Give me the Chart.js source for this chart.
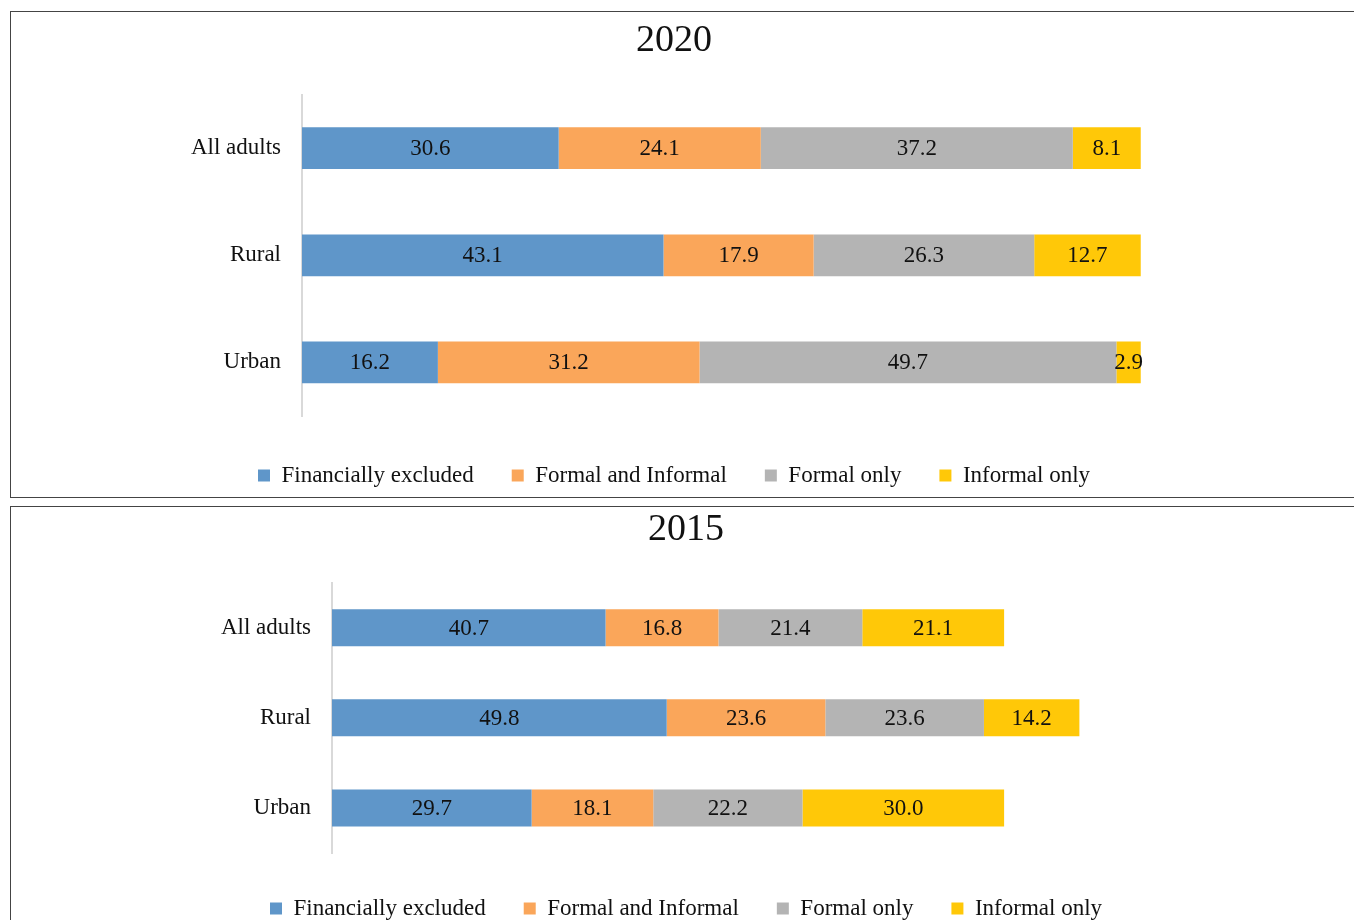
<!DOCTYPE html>
<html>
<head>
<meta charset="utf-8">
<script src="https://cdn.jsdelivr.net/npm/chart.js@4.4.1/dist/chart.umd.min.js"></script>
<style>
  body { margin: 0; background: #fff; width: 1354px; height: 920px; overflow: hidden; position: relative; }
  .panel { position: absolute; left: 10px; border: 1px solid #444; border-right: none; }
  #p2020 { top: 11px; width: 1400px; height: 485px; }
  #p2015 { top: 506px; width: 1400px; height: 440px; }
  .wrap { position: absolute; left: 0; top: 0; }
</style>
</head>
<body>
<div class="panel" id="p2020"><div class="wrap" style="width:1326px;height:485px"><canvas id="chart2020"></canvas></div></div>
<div class="panel" id="p2015"><div class="wrap" style="width:1350px;height:423px"><canvas id="chart2015"></canvas></div></div>
<script>
const categories = ['All adults', 'Rural', 'Urban'];
const seriesNames = ['Financially excluded', 'Formal and Informal', 'Formal only', 'Informal only'];
const colors = ['#5F96C9', '#FAA65A', '#B4B4B4', '#FFC808'];

// 2020 values, per series, order: All adults, Rural, Urban
const excluded2020 = [30.6, 43.1, 16.2];
const formalInformal2020 = [24.1, 17.9, 31.2];
const formalOnly2020 = [37.2, 26.3, 49.7];
const informalOnly2020 = [8.1, 12.7, 2.9];

// 2015
const excluded2015 = [40.7, 49.8, 29.7];
const formalInformal2015 = [16.8, 23.6, 18.1];
const formalOnly2015 = [21.4, 23.6, 22.2];
const informalOnly2015 = [21.1, 14.2, 30.0];

const FONT = "'Liberation Serif', 'DejaVu Serif', serif";

const valueLabels = {
  id: 'valueLabels',
  afterDatasetsDraw(chart) {
    const ctx = chart.ctx;
    ctx.save();
    ctx.font = '23px ' + FONT;
    ctx.fillStyle = '#111';
    ctx.textAlign = 'center';
    ctx.textBaseline = 'middle';
    chart.data.datasets.forEach((ds, i) => {
      chart.getDatasetMeta(i).data.forEach((bar, j) => {
        const x = (bar.x + bar.base) / 2;
        ctx.fillText(ds.data[j].toFixed(1), x, bar.y + 1);
      });
    });
    ctx.restore();
  }
};

function makeChart(id, title, series, opts) {
  return new Chart(document.getElementById(id), {
    type: 'bar',
    data: {
      labels: categories,
      datasets: series.map((d, i) => ({
        label: seriesNames[i],
        data: d,
        backgroundColor: colors[i],
        barPercentage: opts.barPct,
        categoryPercentage: 1
      }))
    },
    options: {
      indexAxis: 'y',
      responsive: true,
      maintainAspectRatio: false,
      animation: false,
      layout: { padding: 0 },
      scales: {
        x: {
          stacked: true, min: 0, max: opts.max,
          grid: { display: false }, border: { display: false }, ticks: { display: false },
          afterFit(scale) { scale.height = opts.xHeight; }
        },
        y: {
          stacked: true,
          grid: { display: false, drawTicks: false },
          border: { display: true, color: '#d9d9d9', width: 2 },
          ticks: { color: '#111', font: { family: FONT, size: 23 }, padding: 21 },
          afterFit(scale) { scale.width = opts.yWidth; }
        }
      },
      plugins: {
        title: {
          display: true, text: title, color: '#111',
          font: { family: FONT, size: 38, weight: 'normal' },
          padding: { top: opts.titleTop, bottom: opts.titleBottom }
        },
        legend: {
          position: 'bottom',
          labels: { color: '#111', font: { family: FONT, size: 23 }, boxWidth: 12, boxHeight: 12, padding: 38 }
        },
        tooltip: { enabled: false }
      }
    },
    plugins: [valueLabels]
  });
}

// axis max chosen so the plot spans the full panel width, like the source
makeChart('chart2020', '2020', [excluded2020, formalInformal2020, formalOnly2020, informalOnly2020],
  { max: 123.4, yWidth: 291, xHeight: 10, barPct: 0.39, titleTop: 6, titleBottom: 31 });
makeChart('chart2015', '2015', [excluded2015, formalInformal2015, formalOnly2015, informalOnly2015],
  { max: 153.1, yWidth: 321, xHeight: 6, barPct: 0.41, titleTop: 0, titleBottom: 30 });
</script>
</body>
</html>
